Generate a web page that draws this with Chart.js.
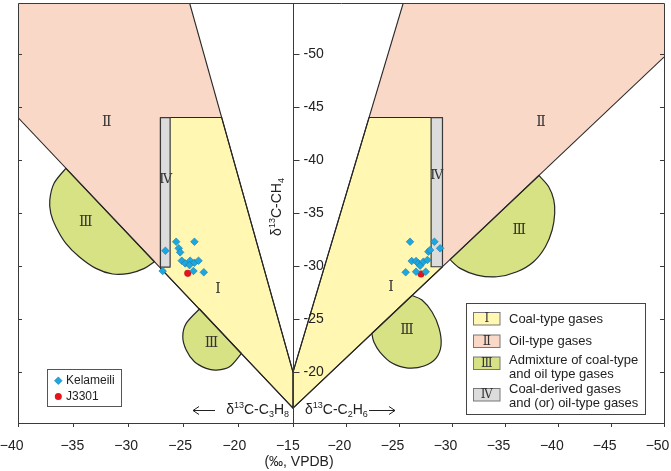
<!DOCTYPE html>
<html><head><meta charset="utf-8">
<script src="https://cdn.jsdelivr.net/npm/chart.js@4.4.0/dist/chart.umd.min.js"></script>
<style>html,body{margin:0;padding:0;background:#fff}#wrap{width:671px;height:471px}</style>
</head><body><div id="wrap"><canvas id="c" width="671" height="471"></canvas></div>
<script>
// ===== DATA (δ13C values, ‰ VPDB) =====
// left half: δ13C-C3H8 ; right half: δ13C-C2H6 ; vertical: δ13C-CH4
const xTicksC3 = [-40, -35, -30, -25, -20, -15];
const xTicksC2 = [-20, -25, -30, -35, -40, -45, -50];
const yTicks = [-50, -45, -40, -35, -30, -25, -20];
const yRange = [-54.8, -15.2];

const kelameiliC3 = [[-25.62,-32.29],[-23.96,-32.29],[-26.60,-31.44],[-25.39,-31.67],[-25.26,-31.29],[-25.11,-30.50],[-24.80,-30.25],[-24.35,-30.50],[-24.41,-30.09],[-23.96,-30.31],[-23.59,-30.50],[-24.05,-29.53],[-23.11,-29.41],[-26.85,-29.53]];
const kelameiliC2 = [[-26.04,-32.29],[-28.34,-32.29],[-28.88,-31.67],[-27.77,-31.35],[-27.93,-31.51],[-26.20,-30.47],[-26.61,-30.47],[-26.82,-30.25],[-26.99,-30.03],[-27.30,-30.41],[-27.68,-30.57],[-25.63,-29.41],[-26.61,-29.46],[-27.52,-29.46]];
const j3301C3 = [[-24.57,-29.31]];
const j3301C2 = [[-27.08,-29.25]];

// region outlines
const regionI_C3 = [[-27.05,-44],[-21.48,-44],[-15,-20],[-15,-16.6],[-27.05,-29.81]];
const regionII_C3 = [[-40,-54.8],[-24.4,-54.8],[-21.48,-44],[-27.05,-44],[-27.05,-29.81],[-40,-44]];
const regionIV_C3 = [[-27.05,-44],[-26.17,-44],[-26.17,-29.9],[-27.05,-29.9]];
const regionIIIa_C3 = [[-35.65,-39.2],[-36.72,-37.80],[-37.11,-36.23],[-37.02,-34.97],[-36.56,-33.71],[-35.65,-32.14],[-34.44,-30.88],[-32.92,-29.78],[-31.40,-29.25],[-29.88,-29.31],[-28.51,-29.78],[-27.6,-30.4]];
const regionIIIb_C3 = [[-23.5,-25.95],[-24.71,-24.59],[-25.02,-23.33],[-24.71,-22.08],[-23.96,-20.97],[-22.89,-20.35],[-21.98,-20.19],[-20.77,-20.50],[-19.7,-21.75]];

const regionI_C2 = [[-22.17,-44],[-29.1,-44],[-29.1,-29.93],[-15,-16.6],[-15,-20]];
const regionII_C2 = [[-25.4,-54.8],[-50,-54.8],[-50,-49.7],[-29.1,-29.93],[-29.1,-44],[-22.17,-44]];
const regionIV_C2 = [[-28.03,-44],[-29.1,-44],[-29.1,-29.93],[-28.03,-29.93]];
const regionIIIa_C2 = [[-38.2,-38.54],[-39.12,-37.48],[-39.60,-36.23],[-39.69,-34.97],[-39.45,-33.40],[-38.81,-31.82],[-37.70,-30.41],[-36.13,-29.46],[-34.24,-28.99],[-32.35,-29.15],[-30.77,-29.78],[-29.82,-30.6]];
const regionIIIb_C2 = [[-26.23,-27.22],[-27.17,-26.79],[-28.12,-25.66],[-28.78,-24.15],[-28.97,-22.55],[-28.50,-21.32],[-27.36,-20.57],[-25.85,-20.38],[-24.34,-20.85],[-23.20,-21.89],[-22.63,-22.83],[-22.44,-23.64]];

const lineV_C3 = [[-24.4,-54.8],[-15,-20]];
const lineV_C2 = [[-25.4,-54.8],[-15,-20]];
const lineDiag_C3 = [[-40,-44],[-15,-16.6]];
const lineDiag_C2 = [[-50,-49.7],[-15,-16.6]];

const regionLabelsC3 = [["Ⅱ",-31.94,-43.51],["Ⅲ",-33.85,-34.09],["Ⅲ",-22.41,-22.71],["Ⅰ",-21.81,-27.81],["Ⅳ",-26.57,-38.11]];
const regionLabelsC2 = [["Ⅱ",-38.40,-43.55],["Ⅲ",-36.35,-33.40],["Ⅲ",-25.76,-23.97],["Ⅰ",-24.25,-27.99],["Ⅳ",-28.57,-38.49]];

const legendItems = [["Ⅰ",["Coal-type gases"]],["Ⅱ",["Oil-type gases"]],["Ⅲ",["Admixture of coal-type","and oil type gases"]],["Ⅳ",["Coal-derived gases","and (or) oil-type gases"]]];

// ===== layout (not data): label nudges in px relative to each x tick =====
const xLabelNudge = [-6.3, -0.7, -1.8, -2.8, -3.7, -5.2, -6.7, -6.5, -6.5, -6.5, -6.2, -6.3, -6.5];

// ===== axis mapping (left: C3H8 from -40 to -15, right: C2H6 from -15 to -50) =====
const RIGHT_K = 0.9636;
const posC3 = v => v + 40;
const posC2 = v => 25 + (-15 - v) * RIGHT_K;
const XMAX = posC2(-50);
const xTickPos = [...xTicksC3.map(posC3), ...xTicksC2.map(posC2)];
const xTickLabels = [...xTicksC3, ...xTicksC2].map(v => String(v).replace('-', '\u2212'));
const ptC3 = p => ({x: posC3(p[0]), y: p[1]});
const ptC2 = p => ({x: posC2(p[0]), y: p[1]});

const COL = {I:'#FFF7B2', II:'#F9D8C8', III:'#D7E285', IV:'#DCDCDC', line:'#262626'};
const SANS = '"Liberation Sans", Arial, sans-serif';
const SERIF = '"DejaVu Serif", serif';

function richText(ctx, parts, x, y, align, size) {
  const small = Math.round(size * 0.62);
  let w = 0;
  parts.forEach(p => { ctx.font = (p[1] ? small : size) + 'px ' + SANS; w += ctx.measureText(p[0]).width; });
  let cx = align === 'center' ? x - w / 2 : (align === 'right' ? x - w : x);
  ctx.textAlign = 'left'; ctx.textBaseline = 'alphabetic';
  parts.forEach(p => {
    ctx.font = (p[1] ? small : size) + 'px ' + SANS;
    const dy = p[1] === 1 ? -size * 0.42 : (p[1] === -1 ? size * 0.2 : 0);
    ctx.fillText(p[0], cx, y + dy);
    cx += ctx.measureText(p[0]).width;
  });
  return w;
}

function arrow(ctx, x1, x2, y) {
  ctx.beginPath(); ctx.moveTo(x1, y); ctx.lineTo(x2, y); ctx.stroke();
  const d = x2 > x1 ? -1 : 1;
  ctx.beginPath(); ctx.moveTo(x2 + d * 6, y - 4); ctx.lineTo(x2, y); ctx.lineTo(x2 + d * 6, y + 4); ctx.stroke();
}

const regionsPlugin = {
  id: 'regions',
  beforeDatasetsDraw(chart) {
    const {ctx, chartArea: a, scales: {x, y}} = chart;
    const px = (p, side) => [x.getPixelForValue(side === 'L' ? posC3(p[0]) : posC2(p[0])), y.getPixelForValue(p[1])];
    ctx.save();
    ctx.lineJoin = 'round';
    const poly = (pts, side, fill, stroke, lw) => {
      ctx.beginPath();
      pts.forEach((p, i) => { const q = px(p, side); i ? ctx.lineTo(q[0], q[1]) : ctx.moveTo(q[0], q[1]); });
      ctx.closePath();
      if (fill) { ctx.fillStyle = fill; ctx.fill(); }
      if (stroke) { ctx.strokeStyle = stroke; ctx.lineWidth = lw || 1; ctx.stroke(); }
    };
    const blob = (pts, side) => {
      const q = pts.map(p => px(p, side));
      ctx.beginPath();
      ctx.moveTo(q[0][0], q[0][1]);
      for (let i = 0; i < q.length - 1; i++) {
        const p0 = q[i - 1] || q[i], p1 = q[i], p2 = q[i + 1], p3 = q[i + 2] || q[i + 1];
        ctx.bezierCurveTo(p1[0] + (p2[0] - p0[0]) / 6, p1[1] + (p2[1] - p0[1]) / 6,
                          p2[0] - (p3[0] - p1[0]) / 6, p2[1] - (p3[1] - p1[1]) / 6, p2[0], p2[1]);
      }
      ctx.closePath();
      ctx.fillStyle = COL.III; ctx.fill();
      ctx.strokeStyle = COL.line; ctx.lineWidth = 1.2; ctx.stroke();
    };
    const line = (pts, side) => {
      ctx.beginPath();
      pts.forEach((p, i) => { const q = px(p, side); i ? ctx.lineTo(q[0], q[1]) : ctx.moveTo(q[0], q[1]); });
      ctx.strokeStyle = COL.line; ctx.lineWidth = 1.1; ctx.stroke();
    };
    ctx.save();
    ctx.beginPath(); ctx.rect(a.left, a.top, a.right - a.left, a.bottom - a.top); ctx.clip();
    poly(regionII_C3, 'L', COL.II);
    poly(regionII_C2, 'R', COL.II);
    poly(regionI_C3, 'L', COL.I, COL.line, 1.1);
    poly(regionI_C2, 'R', COL.I, COL.line, 1.1);
    blob(regionIIIa_C3, 'L'); blob(regionIIIb_C3, 'L');
    blob(regionIIIa_C2, 'R'); blob(regionIIIb_C2, 'R');
    line(lineV_C3, 'L'); line(lineV_C2, 'R');
    line(lineDiag_C3, 'L'); line(lineDiag_C2, 'R');
    poly(regionIV_C3, 'L', COL.IV, '#3a3a3a', 1.2);
    poly(regionIV_C2, 'R', COL.IV, '#3a3a3a', 1.2);
    ctx.restore();

    ctx.fillStyle = '#333'; ctx.textAlign = 'center'; ctx.textBaseline = 'middle';
    const lab = (l, side) => {
      ctx.font = (l[0] === 'Ⅳ' ? 13 : 14) + 'px ' + SERIF;
      const q = px([l[1], l[2]], side); ctx.fillText(l[0], q[0], q[1]);
    };
    regionLabelsC3.forEach(l => lab(l, 'L'));
    regionLabelsC2.forEach(l => lab(l, 'R'));

    ctx.strokeStyle = '#3a3a3a'; ctx.lineWidth = 1;
    ctx.strokeRect(Math.round(a.left) + 0.5, Math.round(a.top) + 0.5, Math.round(a.right - a.left), Math.round(a.bottom - a.top));

    const cx = Math.round(x.getPixelForValue(posC3(-15))) + 0.5;
    ctx.beginPath(); ctx.moveTo(cx, a.top); ctx.lineTo(cx, a.bottom); ctx.stroke();
    ctx.fillStyle = '#222'; ctx.font = '14px ' + SANS; ctx.textAlign = 'left'; ctx.textBaseline = 'middle';
    yTicks.forEach(t => {
      const ty = Math.round(y.getPixelForValue(t)) + 0.5;
      ctx.beginPath(); ctx.moveTo(cx, ty); ctx.lineTo(cx + 6, ty); ctx.stroke();
      ctx.fillText(String(t), cx + 10, ty);
      ctx.beginPath(); ctx.moveTo(a.left, ty); ctx.lineTo(a.left + 4, ty); ctx.stroke();
      ctx.beginPath(); ctx.moveTo(a.right, ty); ctx.lineTo(a.right - 4, ty); ctx.stroke();
    });
    ctx.restore();
  },
  afterDatasetsDraw(chart) {
    const {ctx, scales: {x}} = chart;
    ctx.save();
    ctx.fillStyle = '#222'; ctx.strokeStyle = '#222'; ctx.lineWidth = 1;
    ctx.font = '14px ' + SANS; ctx.textAlign = 'center'; ctx.textBaseline = 'alphabetic';
    xTickPos.forEach((p, i) => ctx.fillText(xTickLabels[i], x.getPixelForValue(p) + xLabelNudge[i], 449.5));
    ctx.save();
    ctx.translate(281, 207); ctx.rotate(-Math.PI / 2);
    richText(ctx, [['δ',0],['13',1],['C-CH',0],['4',-1]], 0, 0, 'center', 14);
    ctx.restore();
    const cx = x.getPixelForValue(posC3(-15));
    richText(ctx, [['δ',0],['13',1],['C-C',0],['3',-1],['H',0],['8',-1]], cx - 4, 414, 'right', 14);
    arrow(ctx, 215, 193, 410.5);
    richText(ctx, [['δ',0],['13',1],['C-C',0],['2',-1],['H',0],['6',-1]], cx + 12, 414, 'left', 14);
    arrow(ctx, 369, 395, 410.5);
    ctx.font = '14px ' + SANS; ctx.textAlign = 'center'; ctx.textBaseline = 'middle';
    ctx.fillText('(‰, VPDB)', 299, 462);

    ctx.fillStyle = '#fff'; ctx.fillRect(47.5, 369.5, 74, 37);
    ctx.strokeStyle = '#555'; ctx.strokeRect(47.5, 369.5, 74, 37);
    ctx.beginPath(); ctx.moveTo(58.3, 376.9); ctx.lineTo(62.1, 380.7); ctx.lineTo(58.3, 384.5); ctx.lineTo(54.5, 380.7); ctx.closePath();
    ctx.fillStyle = '#1DA7E0'; ctx.fill(); ctx.strokeStyle = '#1677A6'; ctx.lineWidth = 0.6; ctx.stroke();
    ctx.beginPath(); ctx.arc(58.3, 396.5, 3.5, 0, Math.PI * 2); ctx.fillStyle = '#E5131B'; ctx.fill();
    ctx.fillStyle = '#222'; ctx.font = '12px ' + SANS; ctx.textAlign = 'left'; ctx.textBaseline = 'middle';
    ctx.fillText(chart.data.datasets[0].label, 66, 381);
    ctx.fillText(chart.data.datasets[1].label, 66, 397);

    ctx.lineWidth = 1;
    ctx.fillStyle = '#fff'; ctx.fillRect(466.5, 303.5, 179, 111);
    ctx.strokeStyle = '#444'; ctx.strokeRect(466.5, 303.5, 179, 111);
    const cols = [COL.I, COL.II, COL.III, COL.IV];
    const sw = [[312.5, [319]], [335, [341]], [357, [360.5, 374]], [388.5, [389.5, 403]]];
    legendItems.forEach((it, i) => {
      const sy = sw[i][0];
      ctx.fillStyle = cols[i]; ctx.fillRect(473.5, sy, 26.5, 12.5);
      ctx.strokeStyle = '#777'; ctx.strokeRect(473.5, sy, 26.5, 12.5);
      ctx.fillStyle = '#333'; ctx.font = '12px ' + SERIF; ctx.textAlign = 'center'; ctx.textBaseline = 'middle';
      ctx.fillText(it[0], 486.8, sy + 6.5);
      ctx.fillStyle = '#222'; ctx.font = '13px ' + SANS; ctx.textAlign = 'left';
      it[1].forEach((t, j) => ctx.fillText(t, 509, sw[i][1][j]));
    });
    ctx.restore();
  }
};

new Chart(document.getElementById('c'), {
  type: 'scatter',
  data: {
    datasets: [
      {label: 'Kelameili', data: [...kelameiliC3.map(ptC3), ...kelameiliC2.map(ptC2)],
       pointStyle: 'rectRot', pointRadius: 3.8, backgroundColor: '#1DA7E0', borderColor: '#1677A6', borderWidth: 0.6},
      {label: 'J3301', data: [...j3301C3.map(ptC3), ...j3301C2.map(ptC2)],
       pointStyle: 'circle', pointRadius: 3.3, backgroundColor: '#E5131B', borderColor: '#C0101A', borderWidth: 0.5}
    ]
  },
  options: {
    responsive: false, animation: false, devicePixelRatio: 1,
    layout: {padding: {left: 18, right: 7, top: 3, bottom: 0}, autoPadding: false},
    plugins: {legend: {display: false}, tooltip: {enabled: false}},
    scales: {
      x: {type: 'linear', min: 0, max: XMAX,
          afterBuildTicks: s => { s.ticks = xTickPos.map(v => ({value: v})); },
          afterFit: s => { s.height = 48; s.paddingLeft = 0; s.paddingRight = 0; },
          ticks: {callback: () => '', autoSkip: false, maxRotation: 0, padding: 7,
                  color: '#222', font: {family: SANS, size: 14}},
          grid: {drawOnChartArea: false, drawTicks: true, tickLength: 4, color: '#3a3a3a'},
          border: {display: true, color: '#3a3a3a', width: 1}},
      y: {type: 'linear', min: yRange[0], max: yRange[1], reverse: true, display: false}
    }
  },
  plugins: [regionsPlugin]
});
</script></body></html>
